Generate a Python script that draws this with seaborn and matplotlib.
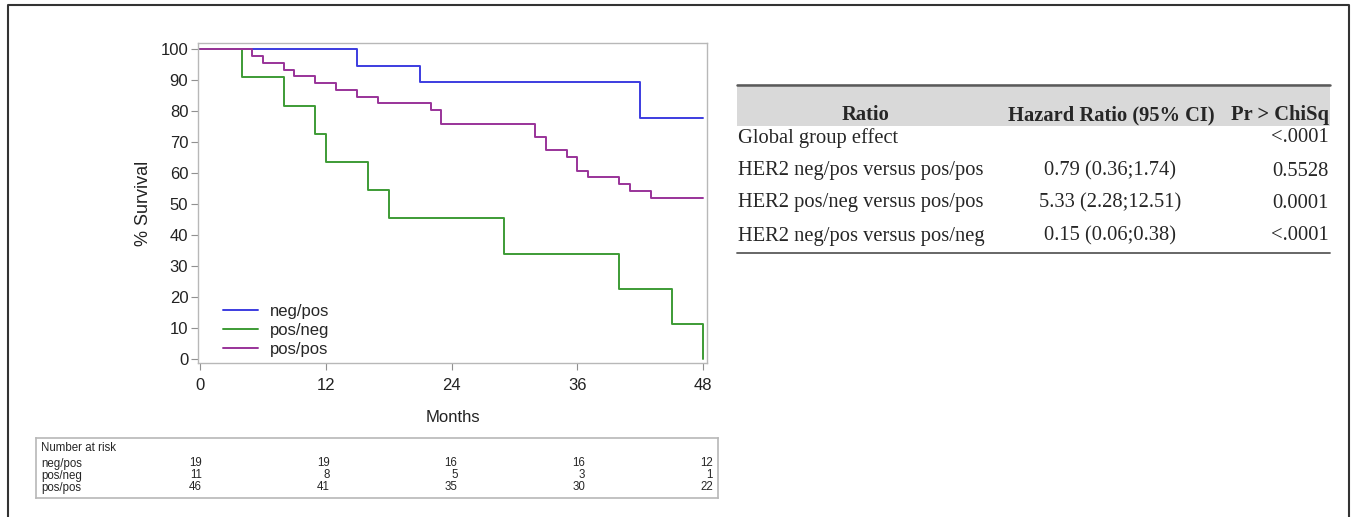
import matplotlib

matplotlib.use("Agg")
import matplotlib.pyplot as plt
import numpy as np
import pandas as pd
import seaborn as sns
from matplotlib.lines import Line2D
from matplotlib.patches import Rectangle

# Kaplan-Meier step values (time in months, % survival)
neg_pos_t = [0, 15, 21, 42, 48]
neg_pos_s = [100, 94.7, 89.3, 77.9, 77.9]

pos_neg_t = [0, 4, 8, 11, 12, 16, 18, 29, 40, 45, 48]
pos_neg_s = [100, 90.9, 81.8, 72.7, 63.6, 54.5, 45.4, 34.0, 22.7, 11.4, 0]

pos_pos_t = [0, 5, 6, 8, 9, 11, 13, 15, 17, 22, 23, 32, 33, 35, 36, 37, 40, 41, 43, 48]
pos_pos_s = [100, 97.8, 95.6, 93.4, 91.3, 89.1, 86.9, 84.7, 82.6, 80.4, 76.0,
             71.6, 67.3, 65.1, 60.8, 58.7, 56.5, 54.2, 52.1, 52.1]

groups = ["neg/pos", "pos/neg", "pos/pos"]
colors = ["#3c3ce0", "#3d9b35", "#993399"]

risk_times = [0, 12, 24, 36, 48]
risk_counts = {
    "neg/pos": [19, 19, 16, 16, 12],
    "pos/neg": [11, 8, 5, 3, 1],
    "pos/pos": [46, 41, 35, 30, 22],
}

table_header = ["Ratio", "Hazard Ratio (95% CI)", "Pr > ChiSq"]
table_rows = ["Global group effect",
              "HER2 neg/pos versus pos/pos",
              "HER2 pos/neg versus pos/pos",
              "HER2 neg/pos versus pos/neg"]
table_hr = ["", "0.79 (0.36;1.74)", "5.33 (2.28;12.51)", "0.15 (0.06;0.38)"]
table_p = ["<.0001", "0.5528", "0.0001", "<.0001"]

sns.set_theme(style="white")
plt.rcParams["font.family"] = ["Liberation Sans", "DejaVu Sans"]

km = pd.concat([
    pd.DataFrame({"Months": neg_pos_t, "Survival": neg_pos_s, "group": "neg/pos"}),
    pd.DataFrame({"Months": pos_neg_t, "Survival": pos_neg_s, "group": "pos/neg"}),
    pd.DataFrame({"Months": pos_pos_t, "Survival": pos_pos_s, "group": "pos/pos"}),
], ignore_index=True)

W, H = 1354, 517
fig = plt.figure(figsize=(W / 100, H / 100), dpi=100)

# background canvas in pixel coordinates for frame and the hazard table
bg = fig.add_axes([0, 0, 1, 1], zorder=0)
bg.set_xlim(0, W)
bg.set_ylim(H, 0)
bg.axis("off")

def fpos(x0, y0, x1, y1):
    return [x0 / W, 1 - y1 / H, (x1 - x0) / W, (y1 - y0) / H]

# survival plot
ax = fig.add_axes(fpos(198, 43, 707, 363), zorder=2)
ax.set_facecolor("none")
sns.lineplot(data=km, x="Months", y="Survival", hue="group", hue_order=groups,
             palette=colors, estimator=None, sort=False, drawstyle="steps-post",
             linewidth=1.4, ax=ax)
ax.set_xlim(-0.19, 48.38)
ax.set_ylim(-1.3, 102)
ax.set_xticks(risk_times)
ax.set_yticks(range(0, 101, 10))
for s in ax.spines.values():
    s.set_color("#b8b8b8")
    s.set_linewidth(1.0)
ax.tick_params(axis="both", which="both", direction="out", length=5, width=0.8,
               color="#909090", labelsize=12, labelcolor="#222222", pad=2)
ax.tick_params(axis="x", pad=6)
ax.tick_params(bottom=True, left=True)
ax.set_xlabel("Months", fontsize=12, color="#222222", labelpad=12)
ax.set_ylabel("% Survival", fontsize=13, color="#222222", labelpad=6)
handles = [Line2D([], [], color=c, lw=1.4) for c in colors]
ax.legend(handles, groups, loc="lower left", frameon=False, fontsize=12,
          handlelength=2.1, handletextpad=0.7, labelspacing=0.25,
          bbox_to_anchor=(0.02, -0.028))

# number at risk box
rk = fig.add_axes(fpos(36, 438, 718, 498), zorder=2)
rk.set_xlim(-15.59, 48.47)
rk.set_ylim(60, 0)
rk.set_xticks([])
rk.set_yticks([])
for s in rk.spines.values():
    s.set_color("#b8b8b8")
    s.set_linewidth(1.2)
narrow = ["Liberation Sans Narrow", "Liberation Sans", "DejaVu Sans"]
fs_r = 8.3
rk.text(-15.1, 10, "Number at risk", fontsize=fs_r, family=narrow, va="center")
for i, g in enumerate(groups):
    yy = 25.5 + i * 12
    rk.text(-15.1, yy, g, fontsize=fs_r, family=narrow, va="center")
    for t, n in zip(risk_times, risk_counts[g]):
        rk.text(t, yy, str(n), fontsize=fs_r, family=narrow, va="center", ha="right")

# hazard ratio table
serif = ["Liberation Serif", "DejaVu Serif"]
fs_t = 14.8
x0, x1 = 737, 1330
bg.add_patch(Rectangle((x0, 84), x1 - x0, 42, facecolor="#d9d9d9", edgecolor="none"))
bg.plot([x0, x1], [84.5, 84.5], color="#5a5a5a", lw=1.8)
bg.plot([x0, x1], [253, 253], color="#5a5a5a", lw=1.3)
hy = 115
bg.text(866, hy, table_header[0], family=serif, fontsize=fs_t, fontweight="bold",
        ha="center", va="center")
bg.text(1111, hy, table_header[1], family=serif, fontsize=fs_t, fontweight="bold",
        ha="center", va="center")
bg.text(1329, hy, table_header[2], family=serif, fontsize=fs_t, fontweight="bold",
        ha="right", va="center")
row_y = [138, 171, 203, 236]
for yy, lab, hr, p in zip(row_y, table_rows, table_hr, table_p):
    bg.text(738, yy, lab, family=serif, fontsize=fs_t, ha="left", va="center")
    bg.text(1110, yy, hr, family=serif, fontsize=fs_t, ha="center", va="center")
    bg.text(1329, yy, p, family=serif, fontsize=fs_t, ha="right", va="center")

# outer frame (open at the bottom)
bg.plot([8, 8, 1349, 1349], [H + 2, 5, 5, H + 2], color="#333333", lw=1.5,
        clip_on=False)

fig.savefig("out.png", dpi=100, facecolor="white")
